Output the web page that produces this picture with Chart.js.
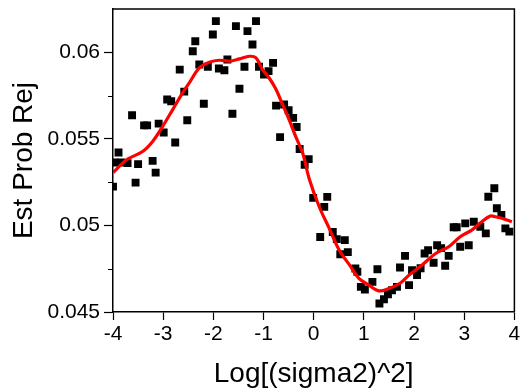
<!DOCTYPE html>
<html>
<head>
<meta charset="utf-8">
<script src="https://cdn.jsdelivr.net/npm/chart.js@4"></script>
<style>
  html, body { margin: 0; padding: 0; background: #fff; }
  #wrap { width: 520px; height: 391px; }
</style>
</head>
<body>
<div id="wrap"><canvas id="c" width="520" height="391"></canvas></div>
<script>
const pointX = [-4.00,-3.97,-3.89,-3.84,-3.71,-3.62,-3.55,-3.50,-3.38,-3.32,-3.21,-3.15,-3.09,-2.99,-2.92,-2.84,-2.76,-2.67,-2.58,-2.52,-2.41,-2.36,-2.28,-2.19,-2.11,-2.01,-1.95,-1.89,-1.78,-1.72,-1.62,-1.55,-1.48,-1.38,-1.32,-1.22,-1.15,-1.09,-0.99,-0.90,-0.81,-0.75,-0.67,-0.59,-0.50,-0.41,-0.34,-0.28,-0.18,-0.10,-0.01,0.13,0.21,0.27,0.38,0.46,0.53,0.62,0.68,0.83,0.87,0.94,1.02,1.17,1.27,1.31,1.40,1.48,1.56,1.66,1.72,1.82,1.90,1.96,2.06,2.13,2.21,2.28,2.39,2.46,2.54,2.62,2.69,2.79,2.85,2.92,3.02,3.09,3.19,3.32,3.43,3.48,3.60,3.65,3.74,3.82,3.90];
const pointY = [0.05224,0.05363,0.05421,0.05363,0.05360,0.05636,0.05247,0.05354,0.05578,0.05578,0.05373,0.05305,0.05588,0.05537,0.05727,0.05717,0.05479,0.05900,0.05773,0.05607,0.06006,0.06064,0.05929,0.05703,0.05916,0.06103,0.06180,0.05906,0.05896,0.05958,0.05645,0.06151,0.05789,0.05916,0.06122,0.06045,0.06180,0.05916,0.05871,0.05891,0.05939,0.05692,0.05510,0.05698,0.05665,0.05621,0.05568,0.05441,0.05350,0.05383,0.05159,0.04933,0.05107,0.05165,0.04962,0.04921,0.04834,0.04915,0.04846,0.04751,0.04732,0.04645,0.04630,0.04674,0.04747,0.04549,0.04574,0.04603,0.04626,0.04645,0.04757,0.04824,0.04655,0.04742,0.04713,0.04753,0.04838,0.04857,0.04784,0.04886,0.04869,0.04767,0.04824,0.04989,0.04989,0.04877,0.05012,0.04886,0.05021,0.04992,0.04954,0.05166,0.05215,0.05099,0.05060,0.04983,0.04964];

const curveX = [-4.00,-3.73,-3.41,-3.21,-3.01,-2.81,-2.61,-2.48,-2.28,-2.08,-1.88,-1.68,-1.48,-1.28,-1.15,-1.02,-0.89,-0.75,-0.62,-0.49,-0.36,-0.22,-0.09,0.11,0.31,0.51,0.74,0.90,1.10,1.30,1.50,1.72,1.90,2.16,2.43,2.69,2.92,3.15,3.35,3.52,3.62,3.75,3.95];
const curveY = [0.05305,0.05379,0.05427,0.05485,0.05572,0.05669,0.05767,0.05823,0.05910,0.05943,0.05954,0.05949,0.05962,0.05977,0.05968,0.05900,0.05853,0.05785,0.05698,0.05611,0.05514,0.05418,0.05270,0.05108,0.04983,0.04857,0.04761,0.04694,0.04655,0.04622,0.04636,0.04666,0.04713,0.04771,0.04838,0.04877,0.04935,0.04973,0.05021,0.05054,0.05050,0.05041,0.05021];

const xTicks = [-4,-3,-2,-1,0,1,2,3,4];
const yTicks = [0.045,0.05,0.055,0.06];
const yTickLabels = ['0.045','0.05','0.055','0.06'];
const yMinorTicks = [0.0475,0.0525,0.0575];

const FONT = "'Liberation Sans', Arial, Helvetica, sans-serif";

const framePlugin = {
  id: 'frame',
  afterDraw(chart) {
    const {ctx, chartArea: a, scales} = chart;
    ctx.save();
    ctx.strokeStyle = '#000';
    ctx.lineWidth = 1.5;
    ctx.beginPath();
    ctx.moveTo(a.left, a.top);
    ctx.lineTo(a.right, a.top);
    ctx.lineTo(a.right, a.bottom);
    ctx.stroke();
    ctx.lineWidth = 1.2;
    ctx.beginPath();
    yMinorTicks.forEach(v => {
      const py = Math.round(scales.y.getPixelForValue(v)) + 0.5;
      ctx.moveTo(a.left - 5, py);
      ctx.lineTo(a.left, py);
    });
    ctx.stroke();
    ctx.restore();
  }
};

new Chart(document.getElementById('c'), {
  type: 'scatter',
  data: {
    datasets: [
      {
        label: 'smooth',
        data: curveX.map((x, i) => ({x, y: curveY[i]})),
        showLine: true,
        borderColor: '#ff0000',
        borderWidth: 3.2,
        pointRadius: 0,
        tension: 0.35,
        fill: false
      },
      {
        label: 'points',
        data: pointX.map((x, i) => ({x, y: pointY[i]})),
        pointStyle: 'rect',
        pointRadius: 5.6,
        backgroundColor: '#000',
        borderColor: '#000',
        borderWidth: 0
      }
    ]
  },
  options: {
    responsive: false,
    animation: false,
    devicePixelRatio: 1,
    layout: { padding: { top: 9, right: 4, left: 0, bottom: 0 } },
    plugins: { legend: { display: false }, tooltip: { enabled: false } },
    scales: {
      x: {
        type: 'linear',
        min: -4, max: 4,
        afterBuildTicks: s => { s.ticks = xTicks.map(v => ({value: v})); },
        afterFit: s => { s.height = 79; s.paddingLeft = 0; s.paddingRight = 0; },
        ticks: { color: '#000', font: { family: FONT, size: 21 }, padding: 2, maxRotation: 0, autoSkip: false,
                 callback: v => String(v) },
        grid: { drawOnChartArea: false, drawTicks: true, tickLength: 8, color: '#000', tickWidth: 1.2 },
        border: { display: true, color: '#000', width: 1.5 },
        title: { display: true, text: 'Log[(sigma2)^2]', color: '#000', font: { family: FONT, size: 28 }, padding: { top: 2, bottom: 0 } }
      },
      y: {
        type: 'linear',
        min: 0.045, max: 0.0625,
        afterBuildTicks: s => { s.ticks = yTicks.map(v => ({value: v})); },
        afterFit: s => { s.width = 113; s.paddingTop = 0; s.paddingBottom = 0; },
        ticks: { color: '#000', font: { family: FONT, size: 21 }, padding: 4, autoSkip: false,
                 callback: (v, i) => yTickLabels[i] },
        grid: { drawOnChartArea: false, drawTicks: true, tickLength: 9, color: '#000', tickWidth: 1.2 },
        border: { display: true, color: '#000', width: 1.5 },
        title: { display: true, text: 'Est Prob Rej', color: '#000', font: { family: FONT, size: 28 }, padding: { top: 7, bottom: 0 } }
      }
    }
  },
  plugins: [framePlugin]
});
</script>
</body>
</html>
